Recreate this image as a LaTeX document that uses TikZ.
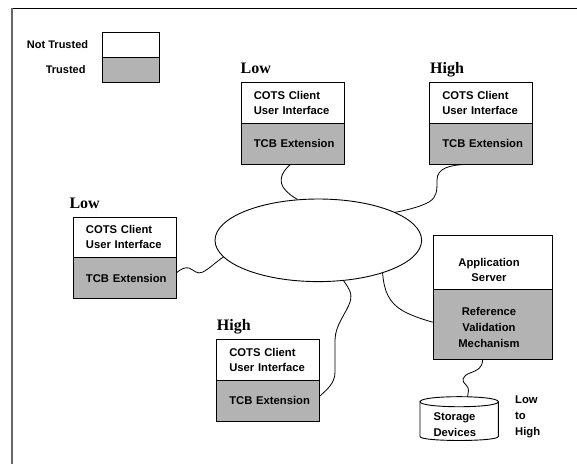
\documentclass[tikz,border=0pt]{standalone}
\usepackage{fontspec}
\setmainfont{Liberation Sans}
\newfontfamily\lblfont{Liberation Serif}
\usetikzlibrary{shapes.geometric}
\definecolor{tgray}{RGB}{179,179,179}
\newcommand{\fsmain}{\fontsize{11.25}{15}\selectfont\bfseries}
\begin{document}
\begin{tikzpicture}[x=1pt,y=-1pt,
  ubox/.style={draw, line width=0.9pt, fill=white, anchor=north west, minimum width=103pt, minimum height=40.5pt, text width=77.4pt, align=left, inner sep=0pt, font=\fsmain},
  tbox/.style={ubox, fill=tgray, minimum height=41pt},
  plainbox/.style={draw, line width=0.9pt, fill=white, anchor=north west, inner sep=0pt},
  lvl/.style={anchor=base west, inner sep=0pt, font=\fontsize{16}{16}\selectfont\lblfont\bfseries},
  wire/.style={line width=0.8pt},
  txt/.style={inner sep=0pt, font=\fsmain}]
\useasboundingbox (0,0) rectangle (577,464);
% frame
\draw[line width=0.9pt] (12,8.3) -- (577,8.3);
\draw[line width=1.6pt, black!60] (12,8.3) -- (12,464);
% legend
\node[plainbox, minimum width=57.3pt, minimum height=25pt] (lgu) at (101.7,32.3) {};
\node[plainbox, fill=tgray, minimum width=57.3pt, minimum height=24.4pt] (lgt) at (101.7,57.3) {};
\node[txt, anchor=base east, font=\fontsize{11}{13}\selectfont\bfseries] (lgut) at (88.3,48.3) {Not Trusted};
\node[txt, anchor=base east, font=\fontsize{11}{13}\selectfont\bfseries] (lgtt) at (85.7,73.3) {Trusted};
% clients
\node[ubox] (c1u) at (240.5,82) {COTS Client\\User Interface};
\node[tbox] (c1b) at (240.5,122.5) {\mbox{TCB Extension}};
\node[lvl] (c1l) at (240.5,73.6) {Low};
\node[ubox] (c2u) at (429,82) {COTS Client\\User Interface};
\node[tbox] (c2b) at (429,122.5) {\mbox{TCB Extension}};
\node[lvl] (c2l) at (430,73.6) {High};
\node[ubox] (c3u) at (72.7,216.7) {COTS Client\\User Interface};
\node[tbox] (c3b) at (72.7,257.2) {\mbox{TCB Extension}};
\node[lvl] (c3l) at (69.3,208.3) {Low};
\node[ubox] (c4u) at (216,339) {COTS Client\\User Interface};
\node[tbox] (c4b) at (216,379.5) {\mbox{TCB Extension}};
\node[lvl] (c4l) at (216.7,330.7) {High};
% network
\node[draw, ellipse, line width=0.9pt, minimum width=206.6pt, minimum height=82.6pt, inner sep=0pt] (net) at (318.3,240.3) {};
% application server
\node[plainbox, minimum width=119pt, minimum height=54.3pt] (as) at (432.7,235) {};
\node[plainbox, fill=tgray, minimum width=119pt, minimum height=70pt] (rv) at (432.7,289.3) {};
\node[txt, align=center] (ast) at (489,270) {Application\\Server};
\node[txt, align=center, font=\fontsize{11.25}{16}\selectfont\bfseries] (rvt) at (489,327) {Reference\\Validation\\Mechanism};
% storage
\node[anchor=north west, minimum width=78.3pt, minimum height=44pt, inner sep=0pt] (stor) at (420,396.7) {};
\draw[line width=0.9pt, fill=white] (420,401.7) -- (420,436.5) .. controls (420,441.8) and (498.3,441.8) .. (498.3,436.5) -- (498.3,401.7);
\draw[line width=0.9pt, fill=white] (420,401.7) .. controls (420,395) and (498.3,395) .. (498.3,401.7) .. controls (498.3,408.4) and (420,408.4) .. (420,401.7) -- cycle;
\node[txt, align=left, anchor=north west, font=\fontsize{11.25}{16}\selectfont\bfseries] (stt) at (433.3,412.5) {Storage\\Devices};
\node[txt, align=left, anchor=north west, font=\fontsize{11.25}{16}\selectfont\bfseries] (lth) at (515,396) {Low\\to\\High};
% connectors
\draw[wire] ([xshift=-2pt]c1b.south) .. controls (284,170) and (278,178) .. (283,187) .. controls (287,193) and (293,197) .. (net.117);
\draw[wire] ([xshift=-14.5pt]c2b.south) .. controls (450,165) and (437,168) .. (437,180) .. controls (437,191) and (437,197) .. (429,202) .. controls (420,207) and (405,210.5) .. (net.20);
\draw[wire] ([yshift=5.5pt]c3b.east) .. controls (181,269) and (185,267) .. (189,268) .. controls (194,270) and (197,275) .. (203,272) .. controls (210,268) and (216,262) .. (net.190);
\draw[wire] (net.302) .. controls (348,287) and (353,293) .. (350,302) .. controls (347,312) and (335,325) .. (335,340) .. controls (335,352) and (335,362) .. (335,372) .. controls (335,384) and (326,390) .. ([yshift=4.3pt]c4b.east);
\draw[wire] (net.333) .. controls (384,290) and (388,303) .. (405,312) .. controls (415,317) and (425,320) .. ([yshift=2.6pt]rv.west);
\draw[wire] ([xshift=-10pt]rv.south) .. controls (482,368) and (478,370) .. (470,373) .. controls (462,376) and (461,381) .. (466,385) .. controls (470,388) and (468,393) .. ([xshift=8.15pt]stor.north);
\end{tikzpicture}
\end{document}
